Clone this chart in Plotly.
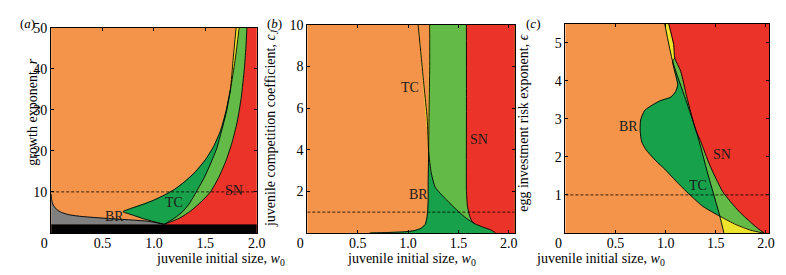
import plotly.graph_objects as go

# ---------------- colours ----------------
ORANGE = "#F4944A"
RED = "#EB3329"
DGREEN = "#17A14A"
LGREEN = "#64BA47"
YELLOW = "#EEE42E"
GREY = "#808080"
BLACK = "#000000"

# ---------------- panel (a) data : w0 vs r ----------------
a_grey_x = [0.0, 0.005, 0.02, 0.05, 0.10, 0.18, 0.30, 0.56, 0.94, 1.10]
a_grey_y = [9.5, 8.0, 6.8, 5.8, 5.0, 4.4, 4.0, 3.5, 2.85, 2.1]
a_band_y = 2.0
# BR curve: from base point, up-left to the tip, then up-right to the top
a_br_x = [1.10, 1.00, 0.90, 0.80, 0.70, 0.78, 0.90, 1.00, 1.10, 1.20, 1.30, 1.40, 1.50, 1.58, 1.65, 1.70, 1.745, 1.79, 1.83]
a_br_y = [2.1, 2.75, 3.45, 4.3, 5.2, 6.0, 7.0, 8.0, 9.2, 10.6, 12.5, 14.8, 17.8, 21.0, 25.0, 29.5, 35.0, 42.0, 50.0]
a_br_cross = 16  # index of the BR/TC crossing point
# TC curve
a_tc_x = [1.10, 1.20, 1.28, 1.34, 1.39, 1.43, 1.49, 1.55, 1.61, 1.66, 1.71, 1.745, 1.77, 1.80]
a_tc_y = [2.1, 3.6, 5.2, 7.0, 9.0, 10.8, 13.5, 16.8, 20.5, 25.0, 30.0, 35.0, 42.0, 50.0]
a_tc_cross = 11
# SN curve
a_sn_x = [1.10, 1.25, 1.36, 1.46, 1.55, 1.63, 1.70, 1.76, 1.81, 1.85, 1.88, 1.895, 1.905]
a_sn_y = [2.1, 3.6, 5.4, 7.6, 10.0, 13.5, 17.5, 22.0, 27.0, 33.0, 40.0, 45.0, 50.0]
a_dash = 10
a_lab_text = ["BR", "TC", "SN"]
a_lab_x = [0.62, 1.20, 1.78]
a_lab_y = [4.1, 7.3, 10.3]

# ---------------- panel (b) data : w0 vs cJ ----------------
b_tc_x = [1.10, 1.13, 1.16, 1.19, 1.205, 1.23, 1.27, 1.38, 1.50, 1.58, 1.66, 1.75, 1.82, 1.87]
b_tc_y = [10.0, 8.5, 7.0, 5.5, 3.9, 2.9, 2.2, 1.6, 1.03, 0.7, 0.45, 0.27, 0.15, 0.0]
b_tc_cross = 4
b_tc_merge = 10
b_br_x = [0.62, 0.80, 0.95, 1.05, 1.12, 1.17, 1.19, 1.20, 1.20, 1.205, 1.21, 1.215, 1.215]
b_br_y = [0.0, 0.02, 0.05, 0.10, 0.20, 0.40, 0.80, 1.5, 2.5, 3.9, 6.0, 8.0, 10.0]
b_br_cross = 9
b_sn_x = [1.58, 1.58, 1.58, 1.585, 1.59, 1.61, 1.63, 1.66]
b_sn_y = [10.0, 6.0, 2.0, 1.6, 1.3, 0.85, 0.6, 0.45]
b_dash = 1
b_lab_text = ["TC", "SN", "BR"]
b_lab_x = [1.02, 1.70, 1.10]
b_lab_y = [7.0, 4.5, 1.85]

# ---------------- panel (c) data : w0 vs epsilon ----------------
c_tc_x = [0.99, 1.07, 1.20, 1.31, 1.42, 1.54, 1.58]
c_tc_y = [5.5, 4.5, 3.5, 2.63, 1.55, 0.44, 0.0]
c_tc_cross1 = 1
c_tc_cross2 = 5
c_sn_x = [1.03, 1.08, 1.09, 1.15, 1.21, 1.30, 1.35, 1.44, 1.57, 1.73, 1.89, 1.98]
c_sn_y = [5.5, 4.95, 4.6, 4.25, 3.58, 2.7, 2.4, 1.78, 1.08, 0.57, 0.18, 0.0]
c_sn_meet = 2
# BR curve: starts on SN, crosses TC, loops left, crosses TC again, ends on axis
c_br_x = [1.09, 1.07, 1.12, 1.10, 1.05, 0.95, 0.89, 0.79, 0.75, 0.745, 0.76, 0.80, 0.90, 0.99, 1.10, 1.21, 1.37, 1.54, 1.70, 1.85, 1.97]
c_br_y = [4.6, 4.5, 3.9, 3.72, 3.57, 3.48, 3.4, 3.22, 2.97, 2.7, 2.4, 2.2, 1.9, 1.68, 1.37, 1.08, 0.7, 0.44, 0.22, 0.07, 0.0]
c_br_cross1 = 1
c_br_cross2 = 17
c_dash = 1
c_lab_text = ["BR", "TC", "SN"]
c_lab_x = [0.63, 1.32, 1.56]
c_lab_y = [2.8, 1.25, 2.05]

# tick labels
x_ticks = [0, 0.5, 1.0, 1.5, 2.0]
x_tick_text = ["0\u2003", "0.5", "1.0", "1.5", "2.0"]

# ---------------- layout geometry ----------------
# The page body has an 8px margin, so the figure is sized to fit inside the
# 786x275 window; positions below are given in window pixels.
PAGE_MARGIN = 8
W, H = 786 - 2 * PAGE_MARGIN, 275 - 2 * PAGE_MARGIN
PANELS = {
    "a": dict(x0=41, x1=252, ytop=21, xr=[0, 2.0], yr=[0, 50], yt=[10, 20, 30, 40, 50]),
    "b": dict(x0=304, x1=517, ytop=18, xr=[0, 2.06], yr=[0, 10], yt=[2, 4, 6, 8, 10]),
    "c": dict(x0=569, x1=778, ytop=17, xr=[0, 2.03], yr=[0, 5.5], yt=[1, 2, 3, 4, 5]),
}
YBOT = 232
FONT = "Liberation Serif"
FS = 14

fig = go.Figure()
AX = {"a": ("x", "y"), "b": ("x2", "y2"), "c": ("x3", "y3")}


def poly(p, xs, ys, color):
    xa, ya = AX[p]
    fig.add_trace(go.Scatter(x=list(xs), y=list(ys), xaxis=xa, yaxis=ya, mode="lines",
                             fill="toself", fillcolor=color,
                             line=dict(color=color, width=0.6),
                             hoverinfo="skip", showlegend=False))


def curve(p, xs, ys, width=0.9, dash=None):
    xa, ya = AX[p]
    fig.add_trace(go.Scatter(x=list(xs), y=list(ys), xaxis=xa, yaxis=ya, mode="lines",
                             line=dict(color=BLACK, width=width, dash=dash, shape="spline", smoothing=0.6),
                             hoverinfo="skip", showlegend=False))


def rev(v):
    return list(v)[::-1]


# ---- panel (a) ----
xmax, ymax = PANELS["a"]["xr"][1], PANELS["a"]["yr"][1]
poly("a", a_sn_x + [xmax, xmax, a_sn_x[0]], a_sn_y + [ymax, 0, 0], RED)
poly("a", a_tc_x[:a_tc_cross + 1] + a_br_x[a_br_cross:] + rev(a_sn_x),
     a_tc_y[:a_tc_cross + 1] + a_br_y[a_br_cross:] + rev(a_sn_y), LGREEN)
poly("a", a_br_x[:a_br_cross + 1] + rev(a_tc_x[:a_tc_cross + 1]),
     a_br_y[:a_br_cross + 1] + rev(a_tc_y[:a_tc_cross + 1]), DGREEN)
poly("a", a_tc_x[a_tc_cross:] + rev(a_br_x[a_br_cross:]),
     a_tc_y[a_tc_cross:] + rev(a_br_y[a_br_cross:]), YELLOW)
poly("a", a_grey_x + [a_grey_x[-1], 0], a_grey_y + [a_band_y, a_band_y], GREY)
poly("a", [0, xmax, xmax, 0], [0, 0, a_band_y, a_band_y], BLACK)
curve("a", a_grey_x, a_grey_y)
curve("a", a_br_x, a_br_y)
curve("a", a_tc_x, a_tc_y)
curve("a", a_sn_x, a_sn_y)
curve("a", [0, xmax], [a_dash, a_dash], width=0.8, dash="3px,2px")

# ---- panel (b) ----
xmax, ymax = PANELS["b"]["xr"][1], PANELS["b"]["yr"][1]
poly("b", b_br_x + [xmax, xmax], b_br_y + [ymax, 0], DGREEN)
poly("b", b_tc_x[b_tc_cross:] + [xmax, xmax] + rev(b_br_x[b_br_cross:]),
     b_tc_y[b_tc_cross:] + [0, ymax] + rev(b_br_y[b_br_cross:]), LGREEN)
poly("b", b_tc_x[:b_tc_cross + 1] + rev(b_br_x[b_br_cross:]),
     b_tc_y[:b_tc_cross + 1] + rev(b_br_y[b_br_cross:]), YELLOW)
poly("b", b_sn_x + b_tc_x[b_tc_merge:] + [xmax, xmax],
     b_sn_y + b_tc_y[b_tc_merge:] + [0, ymax], RED)
curve("b", b_br_x, b_br_y)
curve("b", b_tc_x, b_tc_y)
curve("b", b_sn_x, b_sn_y)
curve("b", [0, xmax], [b_dash, b_dash], width=0.8, dash="3px,2px")

# ---- panel (c) ----
xmax, ymax = PANELS["c"]["xr"][1], PANELS["c"]["yr"][1]
poly("c", c_tc_x + rev(c_sn_x), c_tc_y + rev(c_sn_y), LGREEN)
poly("c", c_tc_x[:c_tc_cross1 + 1] + rev(c_br_x[:c_br_cross1 + 1]) + rev(c_sn_x[:c_sn_meet + 1]),
     c_tc_y[:c_tc_cross1 + 1] + rev(c_br_y[:c_br_cross1 + 1]) + rev(c_sn_y[:c_sn_meet + 1]), YELLOW)
poly("c", c_tc_x[c_tc_cross2:] + rev(c_br_x[c_br_cross2:]),
     c_tc_y[c_tc_cross2:] + rev(c_br_y[c_br_cross2:]), YELLOW)
poly("c", c_br_x[c_br_cross1:c_br_cross2 + 1] + rev(c_tc_x[c_tc_cross1:c_tc_cross2 + 1]),
     c_br_y[c_br_cross1:c_br_cross2 + 1] + rev(c_tc_y[c_tc_cross1:c_tc_cross2 + 1]), DGREEN)
poly("c", c_sn_x + [xmax, xmax], c_sn_y + [0, ymax], RED)
curve("c", c_br_x, c_br_y)
curve("c", c_tc_x, c_tc_y)
curve("c", c_sn_x, c_sn_y)
curve("c", [0, xmax], [c_dash, c_dash], width=0.8, dash="3px,2px")


# ---------------- axes ----------------
def fx(px):  # window pixel -> paper x
    return (px - PAGE_MARGIN) / W


def fy(py):  # window pixel -> paper y
    return 1 - (py - PAGE_MARGIN) / H


common = dict(showgrid=False, zeroline=False, showline=True, linecolor=BLACK, linewidth=1,
              mirror="ticks", ticks="inside", ticklen=3, tickcolor=BLACK,
              tickfont=dict(family=FONT, size=FS, color=BLACK))
layout_axes = {}
for i, p in enumerate(["a", "b", "c"]):
    g = PANELS[p]
    sx = "xaxis" if i == 0 else f"xaxis{i + 1}"
    sy = "yaxis" if i == 0 else f"yaxis{i + 1}"
    ya = "y" if i == 0 else f"y{i + 1}"
    xa = "x" if i == 0 else f"x{i + 1}"
    layout_axes[sx] = dict(domain=[fx(g["x0"]), fx(g["x1"])], range=g["xr"], anchor=ya,
                           tickvals=x_ticks, ticktext=x_tick_text, ticklabelstandoff=-3, **common)
    layout_axes[sy] = dict(domain=[fy(YBOT), fy(g["ytop"])], range=g["yr"], anchor=xa,
                           tickvals=g["yt"], **common)

fig.update_layout(width=W, height=H, margin=dict(l=0, r=0, t=0, b=0),
                  paper_bgcolor="white", plot_bgcolor=ORANGE, showlegend=False,
                  **layout_axes)

ann = []
for p, tx, xs, ys in [("a", a_lab_text, a_lab_x, a_lab_y), ("b", b_lab_text, b_lab_x, b_lab_y),
                      ("c", c_lab_text, c_lab_x, c_lab_y)]:
    xa, ya = AX[p]
    for t, x, y in zip(tx, xs, ys):
        ann.append(dict(text=t, x=x, y=y, xref=xa, yref=ya, showarrow=False,
                        font=dict(family=FONT, size=FS, color="#1a1a1a")))
for t, px in [("(<i>a</i>)", 8), ("(<i>b</i>)", 262), ("(<i>c</i>)", 528)]:
    ann.append(dict(text=t, x=fx(px), y=fy(8), xref="paper", yref="paper", showarrow=False,
                    xanchor="left", yanchor="top", borderpad=0,
                    font=dict(family=FONT, size=13, color=BLACK)))
xlab = "juvenile initial size, <i>w</i><sub>0</sub>"
for p in ["a", "b", "c"]:
    cx = (PANELS[p]["x0"] + PANELS[p]["x1"]) / 2
    ann.append(dict(text=xlab, x=fx(cx), y=fy(259), xref="paper", yref="paper", showarrow=False,
                    yanchor="middle", font=dict(family=FONT, size=FS, color=BLACK)))
ylabs = [("growth exponent, <i>r</i>", 12, 108),
         ("juvenile competition coefficient, <i>c</i><sub><i>J</i></sub>", 268, 124),
         ("egg investment risk exponent, <i>ϵ</i>", 535, 119)]
for t, px, py in ylabs:
    ann.append(dict(text=t, x=fx(px), y=fy(py), xref="paper", yref="paper", showarrow=False,
                    textangle=-90, font=dict(family=FONT, size=FS, color=BLACK)))
fig.update_layout(annotations=ann)

fig.write_html("out.html")
